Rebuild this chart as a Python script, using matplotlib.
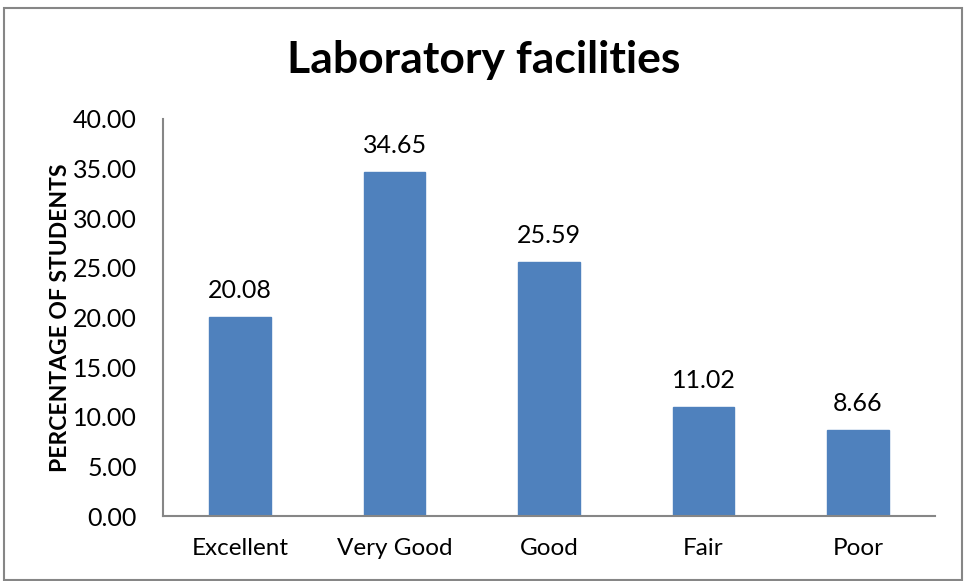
import matplotlib.pyplot as plt
from matplotlib.patches import Rectangle

plt.rcParams['font.family'] = ['Lato', 'DejaVu Sans']

categories = ['Excellent', 'Very Good', 'Good', 'Fair', 'Poor']
values = [20.08, 34.65, 25.59, 11.02, 8.66]
yticks = [0, 5, 10, 15, 20, 25, 30, 35, 40]

fig = plt.figure(figsize=(9.64, 5.81), dpi=100)
ax = fig.add_axes([163 / 964, 1 - 516 / 581, (935 - 163) / 964, (516 - 119) / 581])

x = range(len(categories))
bars = ax.bar(x, values, width=0.4, color='#4f81bd', edgecolor='#4f81bd', zorder=2)
for b, v in zip(bars, values):
    ax.text(b.get_x() + b.get_width() / 2, v + 1.5, f'{v:.2f}',
            ha='center', va='bottom', fontsize=18)

ax.set_xlim(-0.5, len(categories) - 0.5)
ax.set_ylim(0, 40)
ax.set_yticks(yticks)
ax.set_yticklabels([f'{t:.2f}' for t in yticks], fontsize=18)
ax.set_xticks(list(x))
ax.set_xticklabels(categories, fontsize=17.5)
ax.tick_params(length=0)
ax.tick_params(axis='x', pad=16)
ax.tick_params(axis='y', pad=19)

for s in ['top', 'right']:
    ax.spines[s].set_visible(False)
for s in ['left', 'bottom']:
    ax.spines[s].set_color('#868686')
    ax.spines[s].set_linewidth(1.5)

ax.set_ylabel('PERCENTAGE OF STUDENTS', fontsize=16.5, fontweight='bold', labelpad=1)
fig.text(484 / 964, 1 - 60 / 581, 'Laboratory facilities', ha='center', va='center',
         fontsize=32, fontweight='bold')

# outer chart border
fig.patches.append(Rectangle((4 / 964, 0.002), 958 / 964, 1 - 8 / 581 - 0.002,
                             transform=fig.transFigure, fill=False,
                             edgecolor='#868686', linewidth=1.5))

fig.savefig('out.png', dpi=100, facecolor='white')
